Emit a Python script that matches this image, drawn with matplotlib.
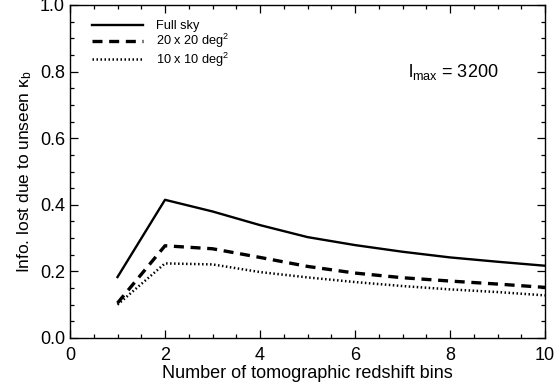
import matplotlib
matplotlib.use("Agg")
import matplotlib.pyplot as plt
from matplotlib.ticker import MultipleLocator, FormatStrFormatter

plt.rcParams['font.family'] = ['Liberation Sans', 'DejaVu Sans']
plt.rcParams['mathtext.fontset'] = 'custom'
plt.rcParams['mathtext.rm'] = 'Liberation Sans'
plt.rcParams['mathtext.it'] = 'Liberation Sans:italic'
plt.rcParams['mathtext.sf'] = 'Liberation Sans'

nbins = [1, 2, 3, 4, 5, 6, 7, 8, 9, 10]
full_sky = [0.183, 0.415, 0.380, 0.339, 0.303, 0.279, 0.259, 0.242, 0.229, 0.217]
sq20 = [0.105, 0.277, 0.268, 0.242, 0.215, 0.195, 0.181, 0.171, 0.162, 0.152]
sq10 = [0.100, 0.224, 0.221, 0.198, 0.182, 0.168, 0.156, 0.146, 0.138, 0.128]
labels = ['Full sky', r'20 x 20 deg$^2$', r'10 x 10 deg$^2$']

W, H = 557, 391
fig = plt.figure(figsize=(W/100, H/100), dpi=100)
ax = fig.add_axes([70/W, 1-338/H, (545-70)/W, (338-5)/H])

ax.plot(nbins, full_sky, color='black', lw=1.7, ls='-', label=labels[0])
ax.plot(nbins, sq20, color='black', lw=2.4, ls=(0, (3, 2)), label=labels[1])
ax.plot(nbins, sq10, color='black', lw=1.8, ls=(0, (0.6, 1.0)), label=labels[2])

ax.set_xlim(0, 10)
ax.set_ylim(0, 1.0)
ax.xaxis.set_major_locator(MultipleLocator(2))
ax.xaxis.set_minor_locator(MultipleLocator(0.5))
ax.yaxis.set_major_locator(MultipleLocator(0.2))
ax.yaxis.set_minor_locator(MultipleLocator(0.05))
ax.yaxis.set_major_formatter(FormatStrFormatter('%.1f'))
ax.tick_params(which='both', direction='in', top=True, right=True, labelsize=13, width=0.9)
ax.tick_params(which='major', length=6)
ax.tick_params(which='minor', length=3)
ax.tick_params(axis='x', which='major', pad=6.5)
ax.tick_params(axis='y', which='major', pad=3.6)
for s in ax.spines.values():
    s.set_linewidth(1.0)

ax.set_xlabel('Number of tomographic redshift bins', fontsize=13, labelpad=0.5)
ax.set_ylabel(r'Info. lost due to unseen κ$_{\rm b}$', fontsize=12.5, labelpad=4)

leg = ax.legend(loc='upper left', frameon=False, fontsize=9.2, handlelength=4.0,
                labelspacing=0.0, borderaxespad=0.0, handletextpad=1.0,
                bbox_to_anchor=(0.035, 0.97))

ax.text(0.712, 0.783, r'l$_{\rm max}$ = 3200', transform=ax.transAxes,
        fontsize=13, va='baseline')

fig.savefig('out.png', dpi=100)
